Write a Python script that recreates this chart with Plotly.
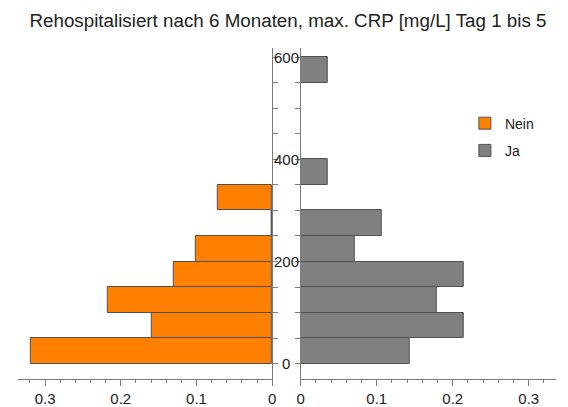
import plotly.graph_objects as go

# CRP bins (mg/L), lower edges, width 50
bin_lower_nein = [0, 50, 100, 150, 200, 250, 300]
bin_lower_ja = [0, 50, 100, 150, 200, 250, 300, 350, 400, 450, 500, 550]
bin_width = 50

# relative frequencies per bin
nein_share = [0.319, 0.159, 0.217, 0.130, 0.101, 0.0, 0.072]
ja_share = [0.143, 0.214, 0.179, 0.214, 0.071, 0.107, 0.0, 0.036, 0.0, 0.0, 0.0, 0.036]

x_tick_vals = [0, 0.1, 0.2, 0.3]
y_label_vals = [0, 200, 400, 600]

title_text = "Rehospitalisiert nach 6 Monaten, max. CRP [mg/L] Tag 1 bis 5"

W, H = 568, 407
FONT = "Liberation Sans, Arial, sans-serif"
axis_color = "#7a7a7a"
outline = "#505050"

fig = go.Figure()

fig.add_trace(go.Bar(
    name="Nein",
    legendgroup="nein",
    x=nein_share,
    y=[b + bin_width / 2 for b in bin_lower_nein],
    width=bin_width,
    orientation="h",
    marker=dict(color="#FF8000", line=dict(color=outline, width=1)),
    xaxis="x", yaxis="y",
))
fig.add_trace(go.Bar(
    name="Ja",
    legendgroup="ja",
    x=ja_share,
    y=[b + bin_width / 2 for b in bin_lower_ja],
    width=bin_width,
    orientation="h",
    marker=dict(color="#808080", line=dict(color=outline, width=1)),
    xaxis="x2", yaxis="y2",
))

x_common = dict(
    showgrid=False, zeroline=False, showline=True, linecolor=axis_color, linewidth=1,
    ticks="outside", tickcolor=axis_color, ticklen=6, tickwidth=1,
    tickvals=x_tick_vals,
    minor=dict(dtick=0.02, tick0=0, ticks="outside", ticklen=3, tickcolor=axis_color),
    tickfont=dict(family=FONT, size=15, color="#222"),
    fixedrange=True,
)
y_common = dict(
    showgrid=False, zeroline=False, showline=True, linecolor=axis_color, linewidth=1,
    ticks="outside", tickcolor=axis_color, ticklen=5, tickwidth=1,
    dtick=50, tick0=0, showticklabels=False,
    range=[-30, 618],
)

fig.update_layout(
    width=W, height=H,
    margin=dict(l=0, r=0, t=48, b=28),
    paper_bgcolor="white", plot_bgcolor="white",
    bargap=0,
    showlegend=True,
    title=dict(text=title_text, x=288 / W, xanchor="center", y=1 - 20 / H, yanchor="middle",
               font=dict(family=FONT, size=18.8, color="#222")),
    xaxis=dict(domain=[14 / W, 272 / W], range=[0.336, 0], anchor="y", **x_common),
    xaxis2=dict(domain=[301 / W, 560 / W], range=[0, 0.336], anchor="y2", **x_common),
    yaxis=dict(anchor="x", side="right", **y_common),
    yaxis2=dict(anchor="x2", side="left", matches="y", **y_common),
    legend=dict(x=0.823, y=0.82, xanchor="left", yanchor="top",
                font=dict(family=FONT, size=14, color="#222"),
                tracegroupgap=6,
                bgcolor="rgba(0,0,0,0)"),
)

# centred value labels between the two panels
for v in y_label_vals:
    fig.add_annotation(x=286.5 / W, xref="paper", y=v, yref="y", text=str(v),
                       showarrow=False, xanchor="center", yanchor="middle",
                       font=dict(family=FONT, size=15, color="#222"))

fig.write_html("out.html")
